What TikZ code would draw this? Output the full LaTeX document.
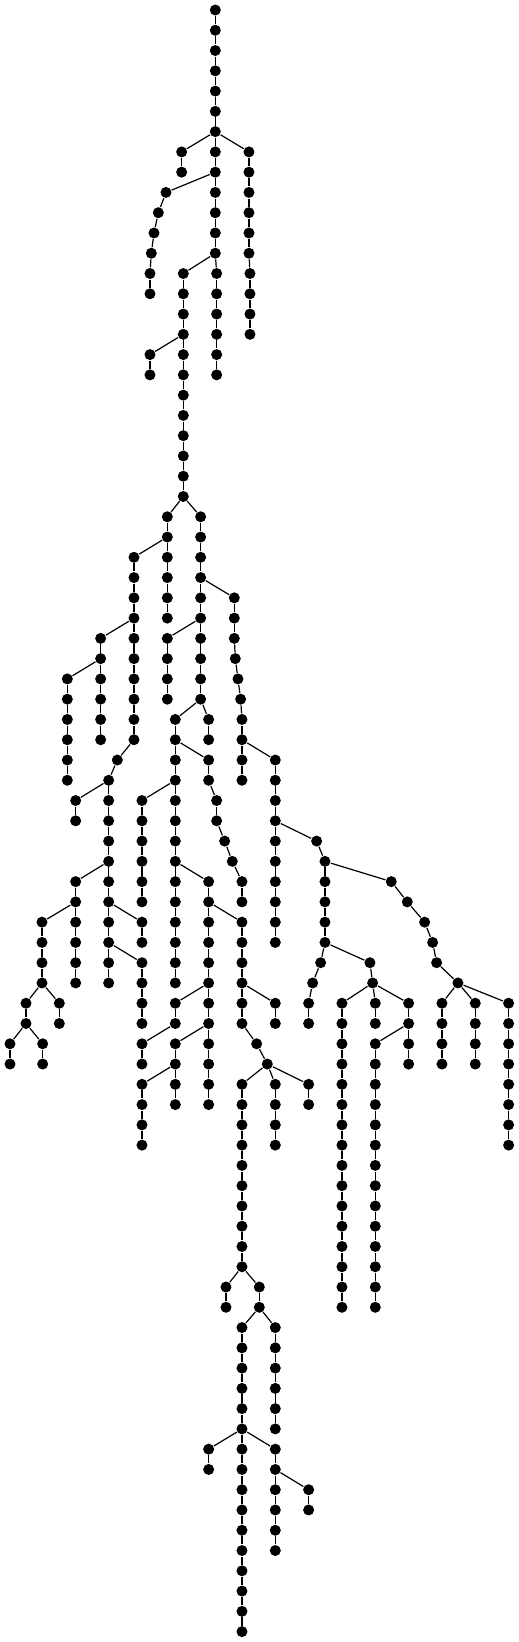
\documentclass[tikz,border=0pt]{standalone}
\begin{document}
\begin{tikzpicture}[x=0.3333pt, y=-20.27pt, line width=1.2pt]
  \tikzstyle{every node}=[circle, fill, inner sep=0pt, minimum size=11pt]
  \useasboundingbox (0pt,10pt) rectangle (519pt,-1632pt);
  % runs down one column: column/first row/last row
  \foreach \cl/\ra/\rb in {646/0/12, 545/7/8, 747/7/12, 498/9/9, 475/10/10, 462/11/11, 454/12/12,
      450/13/14, 550/13/24, 650/13/18, 750/13/16, 450/17/18, 502/25/30, 602/25/34, 402/27/36,
      703/29/31, 302/31/36, 502/31/34, 706/32/32, 714/33/33, 202/33/38, 722/34/34, 526/35/48,
      626/35/36, 726/35/38, 352/37/37, 626/37/38, 826/37/46, 326/38/48, 227/39/40, 426/39/44,
      650/39/40, 674/41/41, 950/41/41, 697/42/42, 975/42/46, 227/43/48, 626/43/54, 726/43/44,
      1174/43/43, 1222/44/44, 126/45/48, 426/45/46, 726/45/50, 1274/45/45, 1298/46/46, 426/47/50,
      962/47/47, 1110/47/47, 1310/47/47, 938/48/48, 1118/48/48, 1374/48/48, 78/49/50, 178/49/50,
      526/49/50, 826/49/50, 926/49/50, 1026/49/64, 1126/49/50, 1226/49/52, 1326/49/52, 1426/49/52,
      1526/49/56, 30/51/52, 128/51/52, 426/51/52, 526/51/54, 770/51/51, 1126/51/64, 802/52/52,
      426/53/56, 726/53/62, 826/53/56, 926/53/54, 678/63/64, 778/63/64, 726/65/80, 826/65/70,
      626/71/72, 826/71/76, 926/73/74} {
    \foreach \rr in {\ra,...,\rb} {
      \node (r\rr-\cl) at (\cl,\rr) {};
      \ifnum\rr>\ra
        \pgfmathtruncatemacro\rp{\rr-1}
        \draw (r\rp-\cl) -- (r\rr-\cl);
      \fi
    }
  }
  % branches: parent column/row/child column/row
  \foreach \px/\py/\qx/\qy in {646/6/545/7, 646/6/747/7, 646/8/498/9, 498/9/475/10, 475/10/462/11,
      462/11/454/12, 454/12/450/13, 646/12/550/13, 646/12/650/13, 747/12/750/13, 550/16/450/17,
      550/24/502/25, 550/24/602/25, 502/26/402/27, 602/28/703/29, 402/30/302/31, 602/30/502/31,
      703/31/706/32, 706/32/714/33, 714/33/722/34, 722/34/726/35, 302/32/202/33, 602/34/526/35,
      602/34/626/35, 402/36/352/37, 526/36/626/37, 726/36/826/37, 352/37/326/38, 326/38/227/39,
      526/38/426/39, 626/38/650/39, 650/40/674/41, 826/40/950/41, 674/41/697/42, 950/41/975/42,
      697/42/726/43, 326/42/227/43, 526/42/626/43, 975/42/1174/43, 1174/43/1222/44, 227/44/126/45,
      326/44/426/45, 626/44/726/45, 1222/44/1274/45, 1274/45/1298/46, 326/46/426/47, 975/46/962/47,
      975/46/1110/47, 1298/46/1310/47, 962/47/938/48, 1110/47/1118/48, 1310/47/1374/48,
      126/48/78/49, 126/48/178/49, 626/48/526/49, 726/48/826/49, 938/48/926/49, 1118/48/1026/49,
      1118/48/1126/49, 1118/48/1226/49, 1374/48/1326/49, 1374/48/1426/49, 1374/48/1526/49,
      78/50/30/51, 78/50/128/51, 526/50/426/51, 626/50/526/51, 726/50/770/51, 1226/50/1126/51,
      770/51/802/52, 526/52/426/53, 802/52/726/53, 802/52/826/53, 802/52/926/53, 726/62/678/63,
      726/62/778/63, 778/64/726/65, 778/64/826/65, 726/70/626/71, 726/70/826/71, 826/72/926/73}
    \draw (r\py-\px) -- (r\qy-\qx);
\end{tikzpicture}
\end{document}
